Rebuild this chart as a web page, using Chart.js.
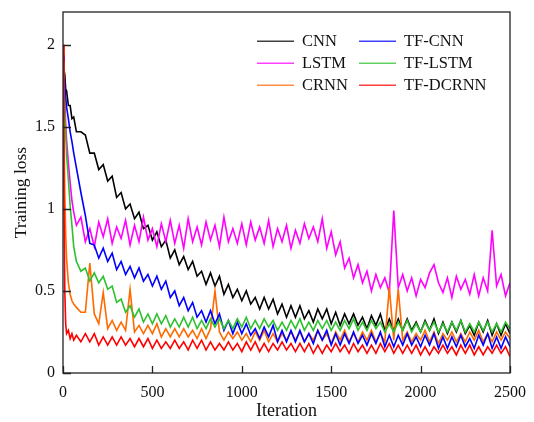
<!DOCTYPE html>
<html>
<head>
<meta charset="utf-8">
<script src="https://cdn.jsdelivr.net/npm/chart.js@4.4.0/dist/chart.umd.min.js"></script>
<style>
html, body { margin: 0; padding: 0; background: #fff; }
</style>
</head>
<body>
<canvas id="lossChart" width="534" height="422"></canvas>
<script>
// iteration at which each loss value was read
const iters = [0, 5, 10, 15, 20, 30, 40, 50, 60, 75, 100,
    125, 150, 175, 200, 225, 250, 275, 300, 325, 350, 375, 400,
    425, 450, 475, 500, 525, 550, 575, 600, 625, 650, 675, 700,
    725, 750, 775, 800, 825, 850, 875, 900, 925, 950, 975, 1000,
    1025, 1050, 1075, 1100, 1125, 1150, 1175, 1200, 1225, 1250, 1275, 1300,
    1325, 1350, 1375, 1400, 1425, 1450, 1475, 1500, 1525, 1550, 1575, 1600,
    1625, 1650, 1675, 1700, 1725, 1750, 1775, 1800, 1825, 1850, 1875, 1900,
    1925, 1950, 1975, 2000, 2025, 2050, 2075, 2100, 2125, 2150, 2175, 2200,
    2225, 2250, 2275, 2300, 2325, 2350, 2375, 2400, 2425, 2450, 2475, 2500];

const cnn = [1.94, 1.85, 1.82, 1.73, 1.72, 1.63, 1.63, 1.55, 1.56, 1.47, 1.47,
    1.45, 1.34, 1.34, 1.24, 1.27, 1.17, 1.20, 1.07, 1.10, 1.00, 1.03, 0.94,
    0.98, 0.88, 0.90, 0.81, 0.86, 0.77, 0.81, 0.70, 0.75, 0.66, 0.71, 0.63,
    0.68, 0.59, 0.62, 0.54, 0.61, 0.53, 0.59, 0.48, 0.54, 0.46, 0.51, 0.44,
    0.50, 0.42, 0.46, 0.39, 0.46, 0.39, 0.45, 0.36, 0.42, 0.34, 0.41, 0.34,
    0.41, 0.33, 0.38, 0.31, 0.39, 0.33, 0.39, 0.30, 0.37, 0.29, 0.36, 0.30,
    0.36, 0.29, 0.34, 0.27, 0.35, 0.29, 0.36, 0.26, 0.33, 0.26, 0.33, 0.26,
    0.33, 0.26, 0.31, 0.25, 0.32, 0.26, 0.33, 0.24, 0.31, 0.24, 0.31, 0.25,
    0.32, 0.24, 0.29, 0.23, 0.31, 0.25, 0.32, 0.23, 0.30, 0.23, 0.30, 0.24];

const lstm = [1.93, 1.80, 1.66, 1.52, 1.42, 1.28, 1.16, 1.05, 0.98, 0.90, 0.95,
    0.80, 0.88, 0.77, 0.92, 0.83, 0.94, 0.79, 0.89, 0.82, 0.93, 0.78, 0.90,
    0.80, 0.95, 0.81, 0.88, 0.77, 0.91, 0.80, 0.93, 0.79, 0.90, 0.76, 0.94,
    0.80, 0.89, 0.78, 0.92, 0.81, 0.90, 0.77, 0.95, 0.80, 0.88, 0.79, 0.91,
    0.78, 0.92, 0.81, 0.89, 0.79, 0.93, 0.77, 0.88, 0.80, 0.90, 0.76, 0.87,
    0.79, 0.91, 0.82, 0.89, 0.80, 0.94, 0.76, 0.86, 0.72, 0.80, 0.64, 0.70,
    0.58, 0.66, 0.55, 0.62, 0.50, 0.60, 0.52, 0.58, 0.49, 0.99, 0.52, 0.60,
    0.50, 0.58, 0.47, 0.57, 0.52, 0.61, 0.66, 0.55, 0.49, 0.58, 0.46, 0.59,
    0.51, 0.57, 0.48, 0.60, 0.47, 0.58, 0.50, 0.87, 0.53, 0.60, 0.47, 0.55];

const crnn = [2.00, 1.50, 1.10, 0.85, 0.70, 0.55, 0.48, 0.44, 0.42, 0.40, 0.37,
    0.37, 0.67, 0.36, 0.30, 0.49, 0.27, 0.32, 0.26, 0.31, 0.26, 0.51, 0.25,
    0.29, 0.24, 0.29, 0.24, 0.30, 0.22, 0.27, 0.22, 0.27, 0.22, 0.27, 0.22,
    0.26, 0.21, 0.27, 0.21, 0.27, 0.50, 0.25, 0.20, 0.25, 0.21, 0.25, 0.20,
    0.24, 0.19, 0.25, 0.20, 0.26, 0.19, 0.24, 0.19, 0.24, 0.20, 0.25, 0.20,
    0.25, 0.19, 0.24, 0.20, 0.26, 0.20, 0.24, 0.18, 0.25, 0.20, 0.26, 0.19,
    0.24, 0.19, 0.25, 0.20, 0.26, 0.19, 0.24, 0.19, 0.52, 0.20, 0.51, 0.20,
    0.25, 0.19, 0.24, 0.20, 0.26, 0.19, 0.25, 0.18, 0.24, 0.20, 0.25, 0.19,
    0.24, 0.19, 0.25, 0.20, 0.26, 0.19, 0.24, 0.19, 0.25, 0.20, 0.25, 0.21];

const tfCnn = [1.93, 1.84, 1.76, 1.68, 1.62, 1.55, 1.47, 1.41, 1.34, 1.25, 1.10,
    0.96, 0.79, 0.78, 0.70, 0.76, 0.68, 0.73, 0.63, 0.68, 0.60, 0.65, 0.58,
    0.64, 0.56, 0.60, 0.53, 0.59, 0.51, 0.56, 0.46, 0.50, 0.41, 0.46, 0.38,
    0.43, 0.34, 0.38, 0.31, 0.38, 0.30, 0.36, 0.26, 0.32, 0.24, 0.31, 0.24,
    0.30, 0.23, 0.27, 0.21, 0.28, 0.22, 0.29, 0.19, 0.26, 0.19, 0.26, 0.19,
    0.26, 0.19, 0.24, 0.18, 0.26, 0.20, 0.26, 0.17, 0.24, 0.17, 0.24, 0.18,
    0.25, 0.18, 0.23, 0.17, 0.24, 0.18, 0.25, 0.16, 0.23, 0.16, 0.23, 0.17,
    0.24, 0.17, 0.22, 0.16, 0.23, 0.17, 0.24, 0.15, 0.22, 0.15, 0.22, 0.16,
    0.23, 0.16, 0.21, 0.15, 0.23, 0.17, 0.24, 0.15, 0.22, 0.15, 0.22, 0.16];

const tfLstm = [1.90, 1.76, 1.60, 1.46, 1.33, 1.18, 1.02, 0.90, 0.77, 0.68, 0.62,
    0.64, 0.56, 0.61, 0.55, 0.59, 0.51, 0.53, 0.43, 0.45, 0.37, 0.41, 0.34,
    0.39, 0.31, 0.36, 0.30, 0.36, 0.30, 0.35, 0.28, 0.33, 0.28, 0.34, 0.28,
    0.34, 0.27, 0.32, 0.27, 0.33, 0.28, 0.33, 0.27, 0.32, 0.27, 0.33, 0.28,
    0.34, 0.27, 0.32, 0.27, 0.33, 0.28, 0.32, 0.26, 0.31, 0.26, 0.32, 0.27,
    0.33, 0.26, 0.31, 0.26, 0.32, 0.27, 0.32, 0.26, 0.31, 0.26, 0.32, 0.27,
    0.33, 0.26, 0.31, 0.26, 0.32, 0.27, 0.31, 0.25, 0.30, 0.25, 0.31, 0.26,
    0.32, 0.25, 0.30, 0.25, 0.31, 0.26, 0.31, 0.25, 0.30, 0.25, 0.31, 0.26,
    0.32, 0.25, 0.30, 0.25, 0.31, 0.26, 0.31, 0.25, 0.30, 0.25, 0.31, 0.27];

const tfDcrnn = [2.00, 1.10, 0.50, 0.30, 0.24, 0.26, 0.21, 0.24, 0.20, 0.23, 0.19,
    0.24, 0.19, 0.24, 0.17, 0.22, 0.17, 0.22, 0.17, 0.22, 0.17, 0.21, 0.16,
    0.21, 0.16, 0.21, 0.15, 0.20, 0.15, 0.19, 0.15, 0.20, 0.15, 0.19, 0.14,
    0.20, 0.15, 0.20, 0.14, 0.19, 0.14, 0.18, 0.14, 0.19, 0.14, 0.18, 0.13,
    0.19, 0.14, 0.19, 0.13, 0.18, 0.13, 0.18, 0.14, 0.19, 0.14, 0.18, 0.13,
    0.18, 0.13, 0.18, 0.12, 0.17, 0.12, 0.17, 0.13, 0.18, 0.13, 0.17, 0.12,
    0.18, 0.13, 0.17, 0.12, 0.17, 0.12, 0.18, 0.13, 0.18, 0.12, 0.17, 0.12,
    0.17, 0.12, 0.17, 0.11, 0.16, 0.11, 0.16, 0.12, 0.17, 0.12, 0.16, 0.11,
    0.17, 0.12, 0.17, 0.11, 0.16, 0.11, 0.16, 0.12, 0.17, 0.12, 0.16, 0.10];

const xTicks = [0, 500, 1000, 1500, 2000, 2500];
const yTicks = [0, 0.5, 1, 1.5, 2];

const FONT = "'Liberation Serif', 'Times New Roman', serif";

// legend columns: CNN / LSTM / CRNN on the left, TF-* on the right
const series = [
    { label: "CNN", data: cnn, color: "#000000", order: 5 },
    { label: "LSTM", data: lstm, color: "#ff00ff", order: 4 },
    { label: "CRNN", data: crnn, color: "#ff6a00", order: 3 },
    { label: "TF-CNN", data: tfCnn, color: "#0000ff", order: 2 },
    { label: "TF-LSTM", data: tfLstm, color: "#2ec12e", order: 1 },
    { label: "TF-DCRNN", data: tfDcrnn, color: "#ff0000", order: 0 }
];

const framePlugin = {
    id: "frame",
    afterDraw(chart) {
        const ctx = chart.ctx;
        const a = chart.chartArea;
        const x = chart.scales.x;
        const y = chart.scales.y;
        ctx.save();
        ctx.strokeStyle = "#222";
        ctx.lineWidth = 1.3;
        ctx.beginPath();
        xTicks.forEach(v => {
            const px = Math.round(x.getPixelForValue(v)) + 0.5;
            ctx.moveTo(px, a.bottom);
            ctx.lineTo(px, a.bottom - 7);
        });
        yTicks.forEach(v => {
            const py = Math.round(y.getPixelForValue(v)) + 0.5;
            ctx.moveTo(a.left, py);
            ctx.lineTo(a.left + 8, py);
        });
        ctx.stroke();
        ctx.strokeRect(a.left, a.top, a.right - a.left, a.bottom - a.top);

        // legend, two columns of three
        ctx.font = "16.5px " + FONT;
        ctx.textBaseline = "middle";
        ctx.textAlign = "left";
        series.forEach((s, i) => {
            const col = Math.floor(i / 3);
            const row = i % 3;
            const lx = a.left + 194 + col * 102;
            const ly = Math.round(a.top + 29 + row * 22);
            ctx.fillStyle = s.color;
            ctx.globalAlpha = 0.75;
            ctx.fillRect(lx, ly - 0.5, 37, 1.5);
            ctx.globalAlpha = 1;
            ctx.fillStyle = "#111";
            ctx.fillText(s.label, lx + 45, ly + 1);
        });
        ctx.restore();
    }
};

function noPad(s) {
    s.paddingTop = 0;
    s.paddingBottom = 0;
    s.paddingLeft = 0;
    s.paddingRight = 0;
}

const chart = new Chart(document.getElementById("lossChart"), {
    type: "line",
    data: {
        datasets: series.map(s => ({
            label: s.label,
            data: s.data.map((v, i) => ({ x: iters[i], y: v })),
            borderColor: s.color,
            borderWidth: 1.6,
            pointRadius: 0,
            tension: 0,
            order: s.order
        }))
    },
    options: {
        responsive: false,
        animation: false,
        layout: { padding: { top: 12, right: 24, left: 0, bottom: 0 } },
        plugins: {
            legend: { display: false },
            tooltip: { enabled: false }
        },
        scales: {
            x: {
                type: "linear",
                min: 0,
                max: 2500,
                afterBuildTicks: s => { s.ticks = xTicks.map(v => ({ value: v })); },
                afterFit: s => { s.height = 49; noPad(s); },
                grid: { display: false, drawTicks: false },
                border: { display: false },
                ticks: { color: "#111", padding: 10, maxRotation: 0, callback: v => String(v), font: { family: FONT, size: 16 } },
                title: { display: true, text: "Iteration", color: "#111", padding: { top: 0, bottom: 0 }, font: { family: FONT, size: 18 } }
            },
            y: {
                min: 0,
                max: 2.2,
                afterBuildTicks: s => { s.ticks = yTicks.map(v => ({ value: v })); },
                afterFit: s => { s.width = 63; noPad(s); },
                grid: { display: false, drawTicks: false },
                border: { display: false },
                ticks: { color: "#111", padding: 8, callback: v => String(v), font: { family: FONT, size: 16 } },
                title: { display: true, text: "Training loss", color: "#111", padding: { top: 11, bottom: 0 }, font: { family: FONT, size: 17.5 } }
            }
        }
    },
    plugins: [framePlugin]
});
</script>
</body>
</html>
